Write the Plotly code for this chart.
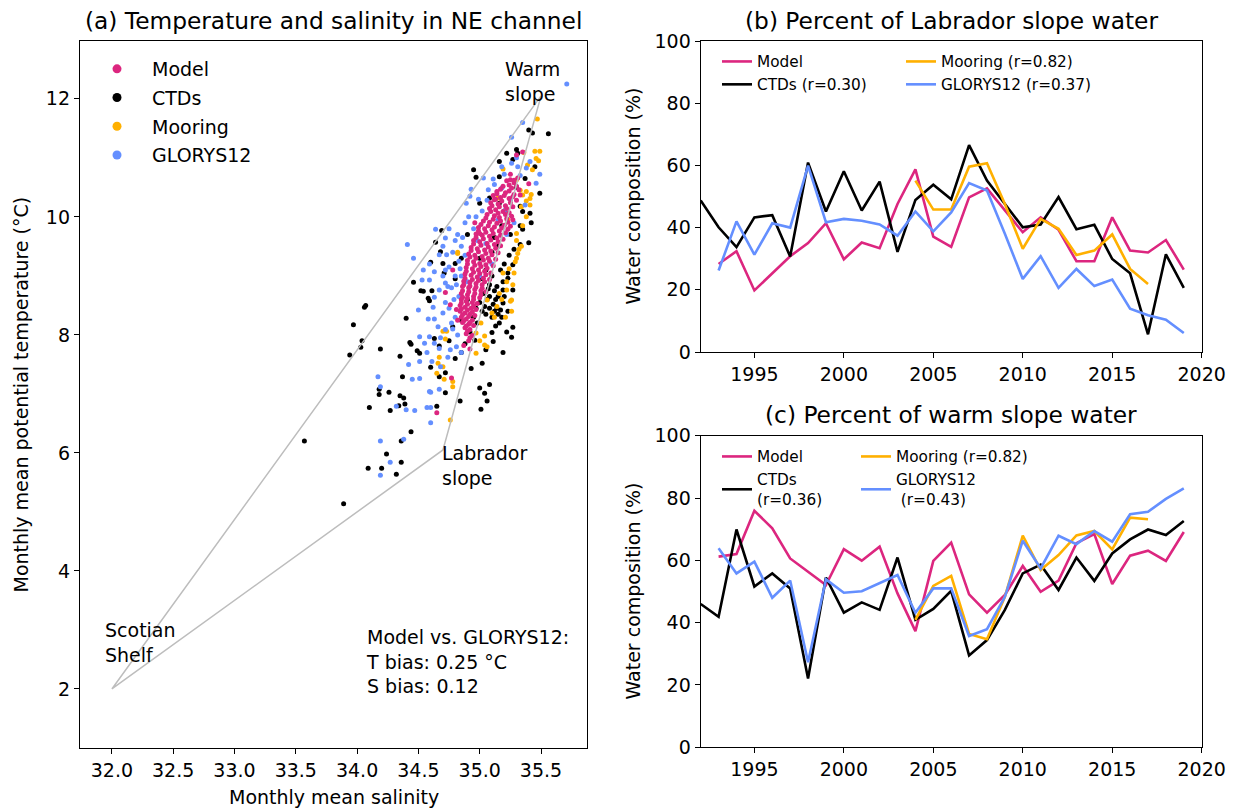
import plotly.graph_objects as go

W, H = 1245, 810
FONT = "DejaVu Sans"
OFF = 8  # page body margin offset of the rendered figure

# ---------------- data ----------------
years = list(range(1992, 2020))

lab_model = [None, 28.3, 32.4, 19.8, 25.3, 30.8, 35.0, 41.4, 29.8, 35.2, 33.4, 47.6, 58.7, 37.1,
             33.8, 49.7, 52.6, 45.5, 38.5, 43.3, 39.3, 29.2, 29.2, 43.3, 32.6, 32.0, 36.0, 26.5]
lab_ctd = [48.7, 40.1, 33.7, 43.3, 44.0, 30.7, 60.9, 45.2, 58.1, 45.5, 54.8, 32.2, 48.9, 53.8,
           49.1, 66.5, 55.1, 47.6, 40.1, 41.0, 49.8, 39.5, 40.9, 29.9, 25.3, 5.7, 31.4, 20.6]
lab_moor = [None] * 12 + [55.1, 45.8, 45.8, 59.6, 60.7, 47.6, 33.2, 42.8, 39.6, 31.2, 32.6, 37.8,
                          26.7, 21.9] + [None, None]
lab_glorys = [None, 26.2, 42.0, 31.3, 41.4, 40.0, 59.9, 41.7, 42.8, 42.2, 41.0, 37.4, 45.2, 38.8,
              44.9, 54.3, 51.9, 38.0, 23.5, 30.8, 20.6, 26.7, 21.2, 23.3, 13.9, 11.8, 10.4, 6.1]

warm_model = [None, 61.2, 62.0, 75.9, 70.3, 60.6, 56.4, 52.1, 63.6, 59.9, 64.4, 49.4, 37.3, 59.8,
              65.7, 49.1, 43.2, 48.9, 58.2, 49.9, 53.5, 65.5, 68.4, 52.4, 61.5, 63.1, 59.8, 69.1]
warm_ctd = [46.0, 41.9, 69.9, 51.6, 55.8, 51.0, 22.1, 54.5, 43.2, 46.5, 44.1, 60.9, 40.9, 44.4,
            50.2, 29.5, 34.4, 44.1, 55.8, 58.6, 50.5, 60.9, 53.4, 62.2, 66.7, 69.9, 68.1, 72.6]
warm_moor = [None] * 12 + [40.9, 51.8, 55.0, 36.4, 34.7, 48.3, 67.9, 56.9, 61.7, 68.0, 69.4, 63.5,
                           73.7, 73.2] + [None, None]
warm_glorys = [None, 63.9, 55.8, 59.6, 48.0, 53.5, 27.3, 53.9, 49.6, 50.1, 52.8, 55.3, 43.2, 51.0,
               51.0, 35.7, 37.9, 48.3, 66.3, 57.4, 67.9, 65.2, 69.4, 66.0, 74.8, 75.6, 79.7, 83.1]

# end-member (mixing) triangle: Scotian Shelf, Labrador slope, Warm slope
end_sal = [32.0, 34.70, 35.50, 32.0]
end_temp = [2.0, 6.05, 12.05, 2.0]

# (salinity, temperature) monthly points
model_points = [
    (35.30, 11.05), (35.35, 11.10), (35.25, 10.72), (35.31, 10.66), (35.22, 10.61), (35.28, 10.58),
    (35.40, 10.56), (35.19, 10.52), (35.26, 10.49), (35.32, 10.46), (35.14, 10.43), (35.21, 10.41),
    (35.28, 10.38), (35.11, 10.36), (35.17, 10.33), (35.24, 10.31), (35.30, 10.28), (35.09, 10.24),
    (35.15, 10.22), (35.21, 10.19), (35.27, 10.17), (35.08, 10.14), (35.13, 10.12), (35.19, 10.09),
    (35.24, 10.07), (35.06, 10.04), (35.12, 10.02), (35.16, 9.99), (35.22, 9.97), (35.27, 9.95),
    (35.03, 9.93), (35.08, 9.91), (35.14, 9.89), (35.20, 9.86), (35.25, 9.84), (34.99, 9.82),
    (35.04, 9.80), (35.10, 9.78), (35.16, 9.76), (35.21, 9.73), (34.97, 9.71), (35.02, 9.69),
    (35.08, 9.67), (35.14, 9.64), (35.19, 9.62), (34.95, 9.60), (35.00, 9.58), (35.06, 9.55),
    (35.12, 9.53), (35.17, 9.51), (34.93, 9.48), (34.98, 9.46), (35.04, 9.44), (35.09, 9.42),
    (35.15, 9.39), (34.91, 9.37), (34.96, 9.35), (35.02, 9.33), (35.07, 9.30), (35.13, 9.28),
    (34.90, 9.26), (34.95, 9.24), (35.00, 9.21), (35.05, 9.19), (35.11, 9.17), (34.89, 9.14),
    (34.94, 9.12), (34.99, 9.10), (35.04, 9.08), (35.09, 9.05), (34.88, 9.03), (34.93, 9.01),
    (34.98, 8.98), (35.03, 8.96), (35.08, 8.94), (34.87, 8.91), (34.92, 8.89), (34.97, 8.87),
    (35.02, 8.85), (34.86, 8.82), (34.91, 8.80), (34.96, 8.77), (35.01, 8.75), (35.05, 8.73),
    (34.85, 8.70), (34.90, 8.68), (34.95, 8.65), (35.00, 8.63), (34.85, 8.60), (34.89, 8.57),
    (34.94, 8.55), (34.98, 8.53), (34.84, 8.50), (34.88, 8.47), (34.93, 8.45), (34.97, 8.43),
    (34.84, 8.40), (34.88, 8.37), (34.92, 8.35), (34.96, 8.33), (34.85, 8.30), (34.89, 8.27),
    (34.94, 8.25), (34.86, 8.21), (34.91, 8.18), (34.95, 8.16), (34.88, 8.12), (34.92, 8.09),
    (34.89, 8.02), (34.94, 7.99), (34.91, 7.90), (34.87, 7.82), (34.92, 7.76),
    (34.78, 9.10), (34.72, 8.72), (34.76, 8.51), (34.81, 8.43), (34.82, 8.25), (34.65, 6.68),
    (34.77, 7.27), (35.25, 10.63), (35.33, 10.37), (35.13, 10.30), (35.00, 9.72), (34.96, 9.90),
    (35.28, 10.62), (35.24, 10.54), (35.30, 10.52), (35.17, 10.47), (35.24, 10.44), (35.14, 10.39),
    (35.20, 10.36), (35.27, 10.34), (35.12, 10.29), (35.18, 10.27), (35.25, 10.24), (35.10, 10.19),
    (35.16, 10.17), (35.22, 10.14), (35.09, 10.09), (35.15, 10.06), (35.21, 10.04), (35.26, 10.01),
    (35.05, 9.98), (35.11, 9.96), (35.17, 9.93), (35.23, 9.91), (35.01, 9.87), (35.07, 9.85),
    (35.12, 9.83), (35.18, 9.81), (35.23, 9.79), (34.99, 9.76), (35.05, 9.74), (35.11, 9.72),
    (35.17, 9.69), (34.97, 9.65), (35.03, 9.63), (35.09, 9.61), (35.15, 9.58), (34.95, 9.54),
    (35.01, 9.52), (35.07, 9.49), (35.13, 9.47), (34.93, 9.43), (34.99, 9.41), (35.05, 9.38),
    (35.10, 9.36), (34.92, 9.32), (34.97, 9.30), (35.03, 9.27), (35.08, 9.25), (34.90, 9.20),
    (34.96, 9.18), (35.01, 9.16), (35.06, 9.13), (34.89, 9.08), (34.95, 9.06), (35.00, 9.04),
    (35.05, 9.02), (34.88, 8.96), (34.94, 8.94), (34.99, 8.92), (35.04, 8.90), (34.87, 8.85),
    (34.92, 8.83), (34.97, 8.81), (35.02, 8.79), (34.86, 8.75), (34.91, 8.73), (34.96, 8.70),
    (35.01, 8.68), (34.86, 8.64), (34.90, 8.62), (34.95, 8.60), (34.85, 8.54), (34.90, 8.52),
    (34.95, 8.49), (34.85, 8.44), (34.90, 8.42), (34.94, 8.39), (34.86, 8.34), (34.91, 8.31),
    (34.87, 8.24), (34.92, 8.21), (34.89, 8.15), (34.90, 8.06), (34.92, 7.95),
]

ctd_points = [
    (35.56, 11.41), (35.40, 11.47), (35.43, 11.42), (35.30, 11.14), (35.31, 11.08), (35.22, 11.08),
    (35.27, 10.97), (35.16, 10.94), (34.95, 10.80), (34.97, 10.67), (35.16, 10.68), (35.49, 10.40),
    (35.00, 10.23), (35.08, 10.32), (35.16, 10.23), (35.35, 10.09), (35.41, 10.06), (35.33, 10.18),
    (35.42, 9.90), (35.35, 9.79), (35.40, 9.56), (35.33, 9.53), (35.27, 9.19), (35.23, 9.05),
    (35.23, 8.96), (35.19, 8.90), (35.27, 8.76), (35.19, 8.76), (35.19, 8.54), (35.12, 8.40),
    (35.15, 8.35), (35.18, 8.30), (35.14, 8.45), (35.10, 8.30), (35.17, 8.42), (35.23, 8.40),
    (35.27, 8.13), (35.26, 7.96), (35.10, 8.04), (35.11, 7.89), (35.19, 7.70), (34.96, 7.91),
    (35.02, 7.52), (35.00, 7.10), (35.08, 7.16), (35.04, 7.01), (35.06, 6.88), (35.01, 6.74),
    (34.84, 6.88), (34.93, 7.43), (34.72, 7.02), (34.65, 6.79), (34.60, 7.45), (34.67, 7.29),
    (34.72, 7.36), (34.69, 9.77), (34.64, 9.57), (34.68, 9.41), (34.60, 9.23), (34.70, 9.21),
    (34.71, 9.05), (34.46, 8.89), (34.52, 8.75), (34.54, 8.74), (34.61, 8.75), (34.58, 8.62),
    (34.59, 8.58), (34.40, 8.28), (34.07, 8.50), (34.06, 8.47), (33.97, 8.17), (34.04, 7.90),
    (34.03, 7.79), (33.94, 7.66), (34.19, 7.76), (34.35, 7.64), (34.43, 7.87), (34.44, 7.84),
    (34.49, 7.73), (34.51, 7.69), (34.63, 7.94), (34.67, 7.81), (34.80, 9.21), (34.78, 8.14),
    (34.37, 7.29), (34.18, 7.08), (34.18, 6.99), (34.26, 7.03), (34.35, 6.97), (34.38, 6.93),
    (34.39, 6.83), (34.34, 6.80), (34.10, 6.77), (34.27, 6.72), (34.44, 6.36), (34.36, 6.20),
    (34.24, 5.98), (34.36, 5.84), (34.20, 5.74), (34.09, 5.74), (34.32, 5.64), (33.89, 5.14),
    (33.57, 6.20), (35.00, 9.30), (35.05, 9.10), (35.10, 9.00), (35.08, 8.85), (35.12, 8.75),
    (35.03, 8.70), (35.06, 8.60), (35.00, 8.55), (34.97, 8.45), (35.02, 8.40), (35.05, 8.35),
    (35.08, 8.45), (34.95, 8.30), (34.98, 8.20), (35.13, 8.60), (35.15, 8.65), (35.20, 9.20),
    (35.15, 9.50), (35.25, 9.70), (35.20, 10.10), (35.30, 10.50), (35.10, 9.40), (34.92, 8.05),
    (34.88, 7.85), (34.85, 7.70), (35.05, 7.75), (34.80, 7.60), (34.75, 7.90), (34.85, 8.25),
    (34.90, 8.60), (35.12, 9.65), (35.18, 9.85), (34.85, 9.30), (34.90, 9.70), (34.80, 8.95),
    (35.02, 8.95), (35.07, 8.78), (35.14, 8.82), (35.20, 8.65), (35.11, 8.52), (35.04, 8.48),
    (35.16, 8.20), (35.22, 8.05), (35.13, 8.15), (35.08, 8.65), (35.24, 9.35), (35.17, 9.10),
    (35.28, 9.45), (35.33, 9.85), (35.25, 10.30), (35.37, 10.65), (35.45, 10.85),
]

moor_points = [
    (35.47, 11.66), (35.45, 11.11), (35.49, 11.11), (35.36, 11.09), (35.46, 10.99), (35.48, 10.95),
    (35.19, 10.81), (35.39, 10.88), (35.43, 10.80), (35.30, 10.63), (35.38, 10.43), (35.42, 10.38),
    (35.33, 10.45), (35.15, 10.32), (35.38, 10.27), (35.41, 10.20), (35.35, 10.37), (35.41, 10.31),
    (35.34, 10.17), (35.38, 10.00), (35.30, 9.72), (35.23, 9.95), (35.31, 9.38), (35.30, 9.30),
    (35.32, 9.45), (35.34, 9.50), (35.29, 9.24), (35.19, 9.05), (35.22, 8.90), (35.16, 8.70),
    (35.22, 8.76), (35.25, 8.57), (35.26, 8.59), (35.26, 8.40), (35.21, 8.30), (35.06, 8.59),
    (35.14, 8.48), (35.10, 8.37), (35.01, 8.20), (34.97, 8.03), (35.04, 7.98), (35.06, 7.80),
    (35.04, 7.83), (34.97, 7.69), (34.82, 9.40), (34.82, 9.38), (34.70, 8.06), (34.72, 7.93),
    (34.73, 8.06), (34.67, 7.62), (34.66, 7.52), (34.70, 7.46), (34.65, 7.35), (34.71, 7.25),
    (34.78, 7.21), (34.78, 7.12), (34.76, 6.56), (35.28, 9.05), (35.24, 9.12), (35.30, 9.60),
    (35.35, 9.85), (35.27, 8.85), (35.18, 8.60), (35.12, 8.30), (35.00, 7.90),
]

glorys_points = [
    (35.71, 12.25), (35.35, 11.60), (35.26, 11.35), (35.41, 10.94), (35.26, 10.91), (35.31, 10.85),
    (35.38, 10.83), (35.49, 10.72), (35.03, 10.66), (35.11, 10.64), (35.33, 10.70), (35.46, 10.57),
    (34.93, 10.47), (35.07, 10.46), (35.18, 10.49), (34.89, 10.23), (34.92, 10.35), (35.06, 10.28),
    (35.37, 10.20), (34.97, 10.00), (34.91, 10.00), (35.02, 10.10), (34.64, 9.79), (34.41, 9.53),
    (34.46, 9.30), (34.72, 9.64), (34.67, 9.36), (34.73, 9.36), (34.59, 9.20), (34.54, 9.10),
    (34.63, 9.07), (34.72, 9.10), (34.75, 9.15), (34.59, 8.93), (34.53, 8.93), (34.72, 8.88),
    (34.74, 8.82), (34.63, 8.64), (34.67, 8.76), (34.50, 8.42), (34.62, 8.47), (34.58, 8.27),
    (34.63, 8.27), (34.70, 8.37), (34.66, 8.14), (34.59, 7.97), (34.51, 7.97), (34.55, 7.86),
    (34.63, 7.86), (34.72, 8.09), (34.57, 7.70), (34.67, 7.77), (34.42, 7.50), (34.17, 7.29),
    (34.19, 7.12), (34.45, 7.25), (34.51, 7.26), (34.60, 7.03), (34.67, 7.08), (34.32, 6.79),
    (34.40, 6.73), (34.47, 6.72), (34.57, 6.77), (34.60, 6.77), (34.60, 6.51), (34.19, 6.20),
    (34.38, 6.23), (34.27, 5.84), (34.19, 5.62), (34.51, 7.55), (34.61, 7.55), (34.68, 7.46),
    (34.59, 7.04), (34.75, 9.80), (34.80, 9.60), (34.85, 9.50), (34.78, 9.40), (34.83, 9.25),
    (34.80, 9.00), (34.77, 8.80), (34.79, 8.60), (34.75, 8.45), (34.80, 8.30), (34.78, 8.10),
    (34.82, 8.00), (34.76, 7.75), (34.85, 7.70), (34.88, 9.90), (34.95, 9.80), (34.98, 9.60),
    (35.25, 10.30), (35.20, 10.10), (35.15, 9.95), (35.28, 9.90), (35.22, 9.70), (35.10, 9.20),
    (35.00, 9.00), (34.90, 8.90), (35.05, 9.55), (34.82, 9.70), (34.86, 9.65), (34.70, 9.50),
    (34.88, 9.35), (34.84, 9.12), (34.70, 9.00), (34.81, 8.85), (34.85, 9.00), (34.72, 8.55),
    (34.83, 8.65), (34.77, 8.20), (34.68, 7.95), (34.74, 7.62), (34.81, 7.80), (34.99, 10.30),
    (35.12, 10.55), (35.20, 10.72), (35.30, 11.00), (35.18, 10.85),
]

sal_ticks = [32.0, 32.5, 33.0, 33.5, 34.0, 34.5, 35.0, 35.5]
temp_ticks = [2, 4, 6, 8, 10, 12]

# ---------------- styling ----------------
C_MODEL, C_CTD, C_MOOR, C_GLO = "#DC267F", "#000000", "#FFB000", "#648FFF"
series = [("Model", C_MODEL), ("CTDs", C_CTD), ("Mooring", C_MOOR), ("GLORYS12", C_GLO)]


def px2x(p):
    return (p - OFF) / W


def px2y(p):
    return 1 - (p - OFF) / H


fig = go.Figure()

# ---- panel (a) scatter ----
scatter_sets = {"CTDs": ctd_points, "Mooring": moor_points, "GLORYS12": glorys_points,
                "Model": model_points}
colors = dict(series)
for name in ["CTDs", "Mooring", "GLORYS12", "Model"]:
    pts = scatter_sets[name]
    fig.add_trace(go.Scatter(
        x=[p[0] for p in pts], y=[p[1] for p in pts], mode="markers",
        marker=dict(size=5, color=colors[name], line=dict(width=0)),
        showlegend=False, xaxis="x", yaxis="y", hoverinfo="skip"))

fig.add_trace(go.Scatter(x=end_sal, y=end_temp, mode="lines",
                         line=dict(color="#bdbdbd", width=1.5), showlegend=False,
                         xaxis="x", yaxis="y", hoverinfo="skip"))

# legend entries for panel (a)
for i, (name, col) in enumerate(series):
    fig.add_trace(go.Scatter(x=[None], y=[None], mode="markers", name=name,
                             marker=dict(size=9, color=col), xaxis="x", yaxis="y",
                             legend="legend", legendgroup="a" + name))

# ---- panels (b) and (c) ----
panel_data = {
    "b": [lab_model, lab_ctd, lab_moor, lab_glorys],
    "c": [warm_model, warm_ctd, warm_moor, warm_glorys],
}
legend_names = {
    "b": ["Model", "CTDs (r=0.30)", "Mooring (r=0.82)", "GLORYS12 (r=0.37)"],
    "c": ["Model", "CTDs<br>(r=0.36)", "Mooring (r=0.82)", "GLORYS12<br> (r=0.43)"],
}
legend_ids = {"b": ["legend2", "legend2", "legend3", "legend3"],
              "c": ["legend4", "legend4", "legend5", "legend5"]}
axes_ids = {"b": ("x2", "y2"), "c": ("x3", "y3")}
for pnl in ["b", "c"]:
    for k, (vals, (nm, col)) in enumerate(zip(panel_data[pnl], series)):
        fig.add_trace(go.Scatter(
            x=years, y=vals, mode="lines", name=legend_names[pnl][k],
            line=dict(color=col, width=2.6), connectgaps=False,
            xaxis=axes_ids[pnl][0], yaxis=axes_ids[pnl][1],
            legend=legend_ids[pnl][k], legendgroup=pnl + nm))

# ---------------- axes ----------------
tickfont = dict(family=FONT, size=19, color="black")
common = dict(showline=True, linecolor="black", linewidth=1.3, mirror=True, ticks="outside",
              ticklen=5, tickwidth=1.3, tickcolor="black", showgrid=False, zeroline=False,
              tickfont=tickfont, automargin=False)

fig.update_layout(
    xaxis=dict(domain=[px2x(80), px2x(587)], range=[31.74, 35.875], tickvals=sal_ticks,
               ticktext=[f"{v:.1f}" for v in sal_ticks], anchor="y", **common),
    yaxis=dict(domain=[px2y(748), px2y(41)], range=[1.0, 12.98], tickvals=temp_ticks,
               anchor="x", **common),
    xaxis2=dict(domain=[px2x(700.7), px2x(1201.7)], range=[1992, 2020.001], tick0=1995, dtick=5,
                anchor="y2", **common),
    yaxis2=dict(domain=[px2y(352), px2y(41)], range=[-0.001, 100.001], tick0=0, dtick=20,
                anchor="x2", **common),
    xaxis3=dict(domain=[px2x(700.7), px2x(1201.7)], range=[1992, 2020.001], tick0=1995, dtick=5,
                anchor="y3", **common),
    yaxis3=dict(domain=[px2y(747.3), px2y(435.7)], range=[-0.001, 100.001], tick0=0, dtick=20,
                anchor="x3", **common),
)


# ---------------- legends ----------------
def leg(xpx, ypx, size, gap, itemwidth=30):
    return dict(x=px2x(xpx), y=px2y(ypx), xanchor="left", yanchor="top",
                font=dict(family=FONT, size=size, color="black"), bgcolor="rgba(0,0,0,0)",
                borderwidth=0, traceorder="grouped", tracegroupgap=gap, itemclick=False,
                itemdoubleclick=False, itemwidth=itemwidth)


fig.update_layout(
    legend=leg(82, 50, 19, 1, itemwidth=60),
    legend2=leg(717, 45, 15.3, 0),
    legend3=leg(901, 45, 15.3, 0),
    legend4=leg(717, 440, 15.3, 0),
    legend5=leg(856, 440, 15.3, 0),
)


# ---------------- text ----------------
def ann(text, xpx, ypx, size, xanchor="center", yanchor="middle", angle=0):
    return dict(text=text, x=px2x(xpx), y=px2y(ypx), xref="paper", yref="paper",
                showarrow=False, font=dict(family=FONT, size=size, color="black"),
                xanchor=xanchor, yanchor=yanchor, textangle=angle)


def dann(text, xs, yt, size=19):
    return dict(text=text, x=xs, y=yt, xref="x", yref="y", showarrow=False, align="left",
                font=dict(family=FONT, size=size, color="black"), xanchor="left",
                yanchor="top")


annotations = [
    ann("(a) Temperature and salinity in NE channel", 333.5, 20, 23.3),
    ann("(b) Percent of Labrador slope water", 951, 20, 23.3),
    ann("(c) Percent of warm slope water", 951, 414, 23.3),
    ann("Monthly mean salinity", 333.5, 797, 19),
    ann("Monthly mean potential temperature (°C)", 20, 394.5, 19, angle=-90),
    ann("Water composition (%)", 632, 196.5, 19, angle=-90),
    ann("Water composition (%)", 632, 591.5, 19, angle=-90),
    dann("Warm<br>slope", 35.19, 12.72),
    dann("Labrador<br>slope", 34.68, 6.22),
    dann("Scotian<br>Shelf", 31.93, 3.22),
    dann("Model vs. GLORYS12:<br>T bias: 0.25 °C<br>S bias: 0.12", 34.06, 3.10),
]

fig.update_layout(width=W, height=H, margin=dict(l=0, r=0, t=0, b=0, autoexpand=False),
                  paper_bgcolor="white", plot_bgcolor="white",
                  font=dict(family=FONT, size=19, color="black"),
                  annotations=annotations, showlegend=True)

fig.write_html("out.html")
